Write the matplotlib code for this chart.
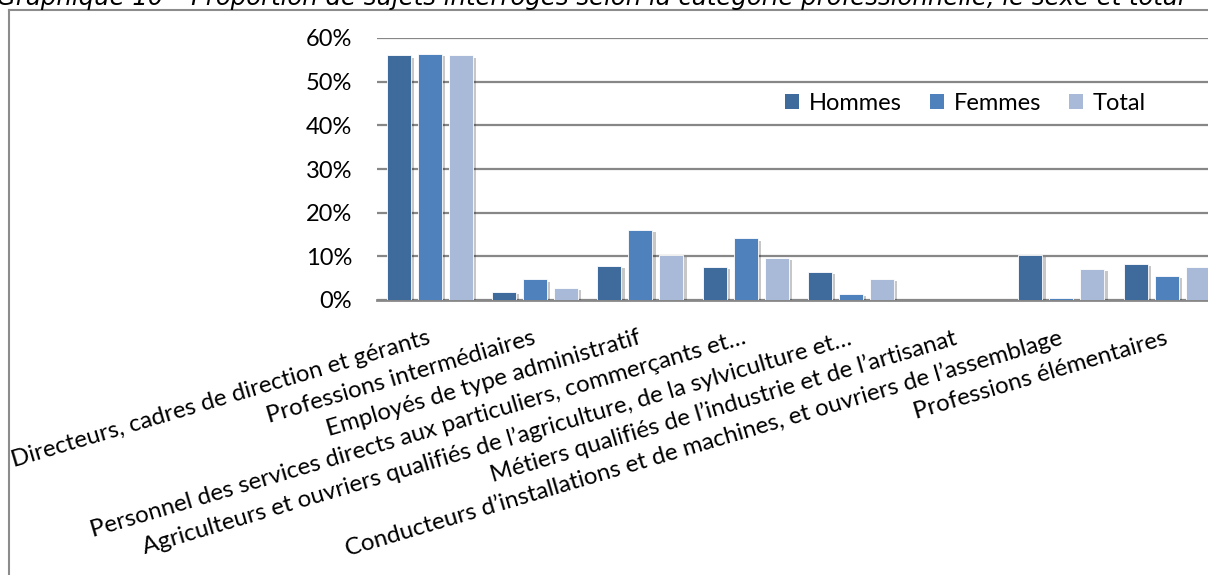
import numpy as np
import matplotlib.pyplot as plt
import matplotlib.patheffects as pe
from matplotlib.lines import Line2D
from matplotlib.patches import Patch

plt.rcParams['font.family'] = ['Lato', 'DejaVu Sans']

title = "Graphique 10 – Proportion de sujets interrogés selon la catégorie professionnelle, le sexe et total"
categories = [
    "Directeurs, cadres de direction et gérants",
    "Professions intermédiaires",
    "Employés de type administratif",
    "Personnel des services directs aux particuliers, commerçants et…",
    "Agriculteurs et ouvriers qualifiés de l’agriculture, de la sylviculture et…",
    "Métiers qualifiés de l’industrie et de l’artisanat",
    "Conducteurs d’installations et de machines, et ouvriers de l’assemblage",
    "Professions élémentaires",
]
series_names = ["Hommes", "Femmes", "Total"]
hommes = [56.0, 1.8, 7.7, 7.6, 6.5, 0.0, 10.4, 8.3]
femmes = [56.3, 4.7, 16.1, 14.1, 1.3, 0.0, 0.4, 5.6]
total = [56.0, 2.8, 10.4, 9.7, 4.9, 0.0, 7.2, 7.5]
yticks = [0, 10, 20, 30, 40, 50, 60]

colors = ['#3F6A9C', '#4F81BD', '#A9BAD8']
grid_col = '#878787'

W, H = 1208, 575
fig = plt.figure(figsize=(W / 100, H / 100), dpi=100)
ax = fig.add_axes([377 / W, 275 / H, 842.4 / W, 262 / H])

x = np.arange(len(categories))
bw = 0.228
step = 0.294
shadow = [pe.SimplePatchShadow(offset=(2.5, -1.5), shadow_rgbFace='black', alpha=0.22), pe.Normal()]
for i, vals in enumerate([hommes, femmes, total]):
    ax.bar(x + (i - 1) * step, vals, bw, color=colors[i], edgecolor='white',
           linewidth=0.6, path_effects=shadow, zorder=3)

ax.set_xlim(-0.5, len(categories) - 0.5)
ax.set_ylim(0, 60)
ax.set_yticks(yticks)
ax.set_yticklabels([f"{v}%" for v in yticks], fontsize=17)
ax.yaxis.grid(True, color=grid_col, linewidth=1.6)
ax.set_axisbelow(True)
for s in ['top', 'right', 'left']:
    ax.spines[s].set_visible(False)
ax.spines['bottom'].set_color(grid_col)
ax.spines['bottom'].set_linewidth(2)
ax.tick_params(axis='y', length=0, pad=18)
ax.set_xticks(x)
ax.set_xticklabels(categories, fontsize=17.3, rotation=16.5, ha='right', va='center',
                   rotation_mode='anchor')
ax.tick_params(axis='x', length=0, pad=27)

handles = [Patch(facecolor=c, edgecolor='none') for c in colors]
fig.legend(handles, series_names, loc='center left', bbox_to_anchor=(785 / W, 1 - 103 / H),
           ncol=3, frameon=False, fontsize=17, handlelength=0.6, handleheight=0.6,
           handletextpad=0.4, columnspacing=1.2, borderpad=0, borderaxespad=0)

# chart frame (cut off on the right and bottom)
fig.add_artist(Line2D([9 / W, 9 / W], [0, 1 - 9.5 / H], transform=fig.transFigure,
                      color='#8c8c8c', linewidth=1.5))
fig.add_artist(Line2D([9 / W, 1], [1 - 9.5 / H, 1 - 9.5 / H], transform=fig.transFigure,
                      color='#8c8c8c', linewidth=1.5))

fig.text(-3 / W, 1 - 4.5 / H, title, fontsize=17.6, style='italic', family='DejaVu Sans',
         ha='left', va='baseline')

fig.savefig("out.png", dpi=100)
